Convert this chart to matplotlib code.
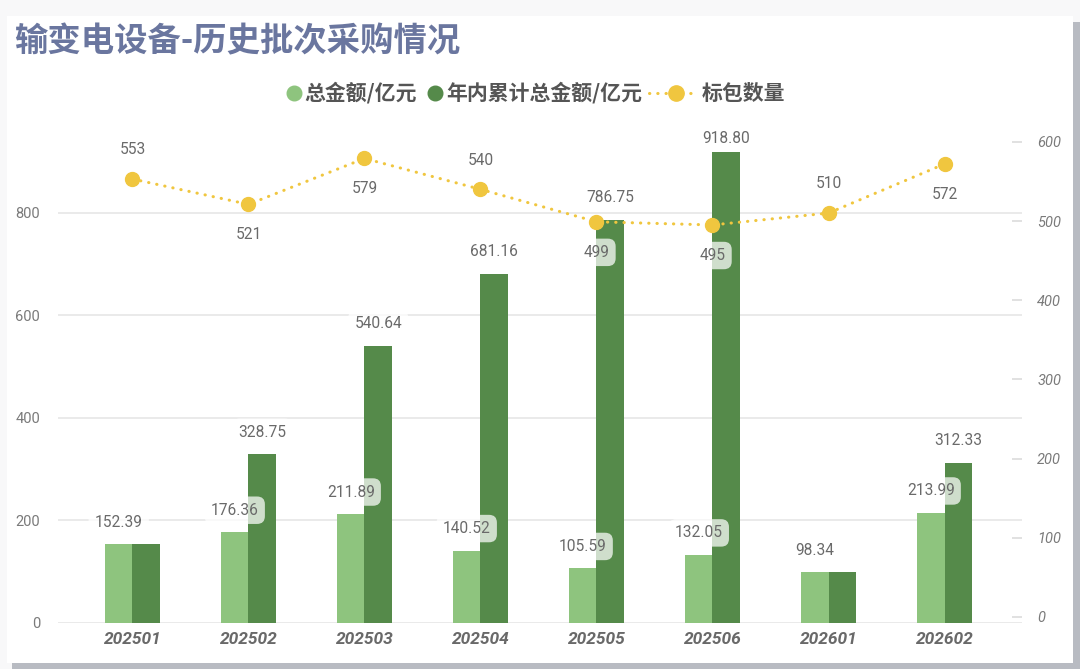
import matplotlib
matplotlib.use('Agg')
import matplotlib.pyplot as plt
from matplotlib.lines import Line2D
from matplotlib.patches import Rectangle
import numpy as np

plt.rcParams['font.family'] = ['Noto Sans CJK SC', 'DejaVu Sans']

categories = ['202501', '202502', '202503', '202504', '202505', '202506', '202601', '202602']
total_amount = [152.39, 176.36, 211.89, 140.52, 105.59, 132.05, 98.34, 213.99]
cumulative_amount = [152.39, 328.75, 540.64, 681.16, 786.75, 918.80, 98.34, 312.33]
package_count = [553, 521, 579, 540, 499, 495, 510, 572]
count_label_above = [True, False, False, True, False, False, True, False]
left_ticks = [0, 200, 400, 600, 800]
right_ticks = [0, 100, 200, 300, 400, 500, 600]

title = '输变电设备-历史批次采购情况'
legend_labels = ['总金额/亿元', '年内累计总金额/亿元', '标包数量']

LIGHT = '#8ec47e'
DARK = '#558a4a'
YELLOW = '#f0c63f'
TXT = '#6a6a6a'
NUMFONT = ['Roboto', 'DejaVu Sans']

W, H = 1080, 669
fig = plt.figure(figsize=(10.8, 6.69), dpi=100)
fig.patch.set_facecolor('#f8f8f9')


def fx(px):
    return px / W


def fy(py):
    return 1 - py / H


# card shadow + card
fig.add_artist(Rectangle((fx(12), fy(669)), fx(1080) - fx(12), fy(22) - fy(669),
                         transform=fig.transFigure, facecolor='#b8bbc2', edgecolor='none', zorder=-2))
fig.add_artist(Rectangle((fx(7), fy(663)), fx(1073) - fx(7), fy(16) - fy(663),
                         transform=fig.transFigure, facecolor='white', edgecolor='none', zorder=-1))

# main axes (amounts)
PX_PER_UNIT = 0.5119
Y0_PX = 622.5
YMAX = 950
ax = fig.add_axes([fx(58), fy(Y0_PX), fx(1022) - fx(58), YMAX * PX_PER_UNIT / H])
ax.set_facecolor('none')
x = np.arange(len(categories))
bw = 0.237
ax.bar(x - bw / 2, total_amount, bw, color=LIGHT, zorder=2)
ax.bar(x + bw / 2, cumulative_amount, bw, color=DARK, zorder=2)
ax.set_xlim(-0.642, 7.668)
ax.set_ylim(0, YMAX)
ax.set_yticks(left_ticks)
ax.yaxis.grid(True, color='#e6e6e6', lw=1.2, zorder=0)
ax.set_axisbelow(True)
for s in ax.spines.values():
    s.set_visible(False)
ax.set_xticks(x)
ax.set_xticklabels(categories, fontsize=12.5, fontweight='bold', fontstyle='italic',
                   color='#696969', family=NUMFONT)
ax.tick_params(axis='x', length=0, pad=7)
ax.tick_params(axis='y', length=0, pad=13, labelsize=10.5, labelcolor='#7a7a7a')
for lab in ax.get_yticklabels():
    lab.set_family(NUMFONT)

box = dict(boxstyle='round,pad=0.4,rounding_size=0.5', facecolor='white', edgecolor='none', alpha=0.72)
top_px = Y0_PX - YMAX * PX_PER_UNIT


def bar_label(xpos, v):
    bar_top = Y0_PX - v * PX_PER_UNIT
    off_px = min(22.0, bar_top - (top_px + 2))
    ax.annotate(f'{v:.2f}', (xpos, v), xytext=(0, off_px * 0.72),
                textcoords='offset points', ha='center', va='center', fontsize=11.2,
                color=TXT, family=NUMFONT, bbox=box, zorder=4)


for i in range(len(categories)):
    bar_label(x[i] - bw / 2, total_amount[i])
    if cumulative_amount[i] != total_amount[i]:
        bar_label(x[i] + bw / 2, cumulative_amount[i])

# secondary axes (package count)
ax2 = fig.add_axes([fx(58), fy(617), fx(1022) - fx(58), 620 * 0.792 / H])
ax2.patch.set_visible(False)
ax2.set_xlim(-0.642, 7.668)
ax2.set_ylim(0, 620)
for s in ax2.spines.values():
    s.set_visible(False)
ax2.set_xticks([])
ax2.yaxis.tick_right()
ax2.set_yticks(right_ticks)
ax2.tick_params(axis='y', direction='in', length=7, width=1.2, color='#dcdcdc', pad=11,
                labelsize=10.5, labelcolor='#7a7a7a')
for lab in ax2.get_yticklabels():
    lab.set_family(NUMFONT)
    lab.set_fontstyle('italic')

ax2.plot(x, package_count, color=YELLOW, lw=2.2, linestyle=(0, (0.1, 2.6)),
         dash_capstyle='round', marker='o', markersize=10, zorder=5)
for i in range(len(categories)):
    off = 21 if count_label_above[i] else -22
    ax2.annotate(str(package_count[i]), (x[i], package_count[i]), xytext=(0, off),
                 textcoords='offset points', ha='center', va='center', fontsize=11.2,
                 color=TXT, family=NUMFONT, bbox=box, zorder=6)

# title
fig.text(fx(14), fy(42), title, fontsize=24, fontweight='bold', color='#6a769f', va='center')

# legend (manual)
ly = fy(93)
fig.add_artist(Line2D([fx(294)], [ly], marker='o', ms=10.5, color=LIGHT, linestyle='none',
                      transform=fig.transFigure))
fig.text(fx(304), ly, legend_labels[0], ha='left', va='center', fontsize=15, fontweight='bold', color='#555555')
fig.add_artist(Line2D([fx(435)], [ly], marker='o', ms=10.5, color=DARK, linestyle='none',
                      transform=fig.transFigure))
fig.text(fx(446), ly, legend_labels[1], ha='left', va='center', fontsize=15, fontweight='bold', color='#555555')
fig.add_artist(Line2D([fx(649), fx(696)], [ly, ly], color=YELLOW, lw=2.2, linestyle=(0, (0.1, 2.6)),
                      dash_capstyle='round', transform=fig.transFigure))
fig.add_artist(Line2D([fx(676)], [ly], marker='o', ms=11, color=YELLOW, linestyle='none',
                      transform=fig.transFigure))
fig.text(fx(702), ly, legend_labels[2], ha='left', va='center', fontsize=15, fontweight='bold', color='#555555')

fig.savefig('out.png', dpi=100, facecolor=fig.get_facecolor())
